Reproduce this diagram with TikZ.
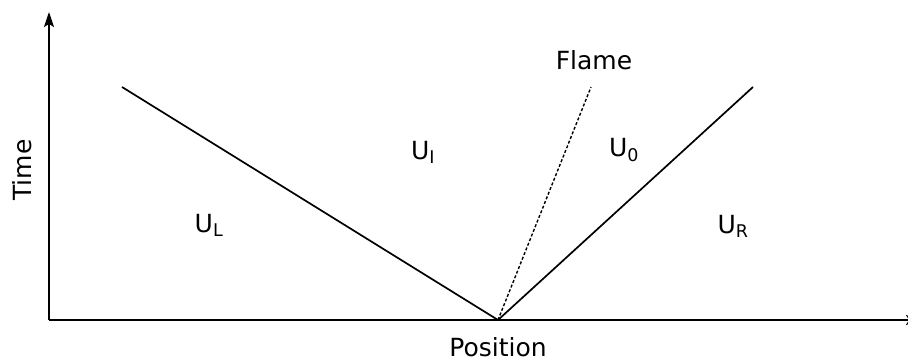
\documentclass[tikz,border=0pt]{standalone}
\usepackage{fontspec}
\setmainfont{DejaVu Sans}
\usetikzlibrary{arrows.meta}

\begin{document}
\begin{tikzpicture}[x=1pt, y=1pt, line width=1.7pt, every node/.style={font=\fontsize{25}{30}\selectfont}]
    \clip (0,0) rectangle (908,361);
    \useasboundingbox (0,0) rectangle (908,361);

    % Shared points of the wave diagram
    \coordinate (O) at (49, 41);       % axes origin
    \coordinate (C_TIME) at (49, 349); % time axis end
    \coordinate (C_POS) at (921, 41);  % position axis end
    \node[inner sep=0pt] (S) at (498, 41) {}; % ignition point
    \coordinate (C_LEFT) at (122, 274);
    \coordinate (C_FLAME) at (591, 274);
    \coordinate (C_RIGHT) at (753, 274);

    % 1. Axes
    \draw[-{Stealth[length=15pt, width=10pt, inset=3pt]}] (O) -- (C_TIME);
    \draw[-{Stealth[length=15pt, width=10pt, inset=3pt]}] (O) -- (C_POS);
    \node (time) at (22, 191) [rotate=90] {Time};
    \node[inner sep=1pt] (pos) at (498, 14) {Position};

    % 2. Left and right waves
    \draw (S.center) -- (C_LEFT);
    \draw (S.center) -- (C_RIGHT);

    % 3. Flame front - dotted
    \draw[line width=1.4pt, dash pattern=on 3pt off 2pt] (S.center) -- (C_FLAME);
    \node (flame) at (594, 301) {Flame};

    % 4. States
    \node (UL) at (209, 136) {U\textsubscript{L}};
    \node (UI) at (423, 209) {U\textsubscript{I}};
    \node (U0) at (624, 211) {U\textsubscript{0}};
    \node (UR) at (733, 135) {U\textsubscript{R}};

\end{tikzpicture}
\end{document}
